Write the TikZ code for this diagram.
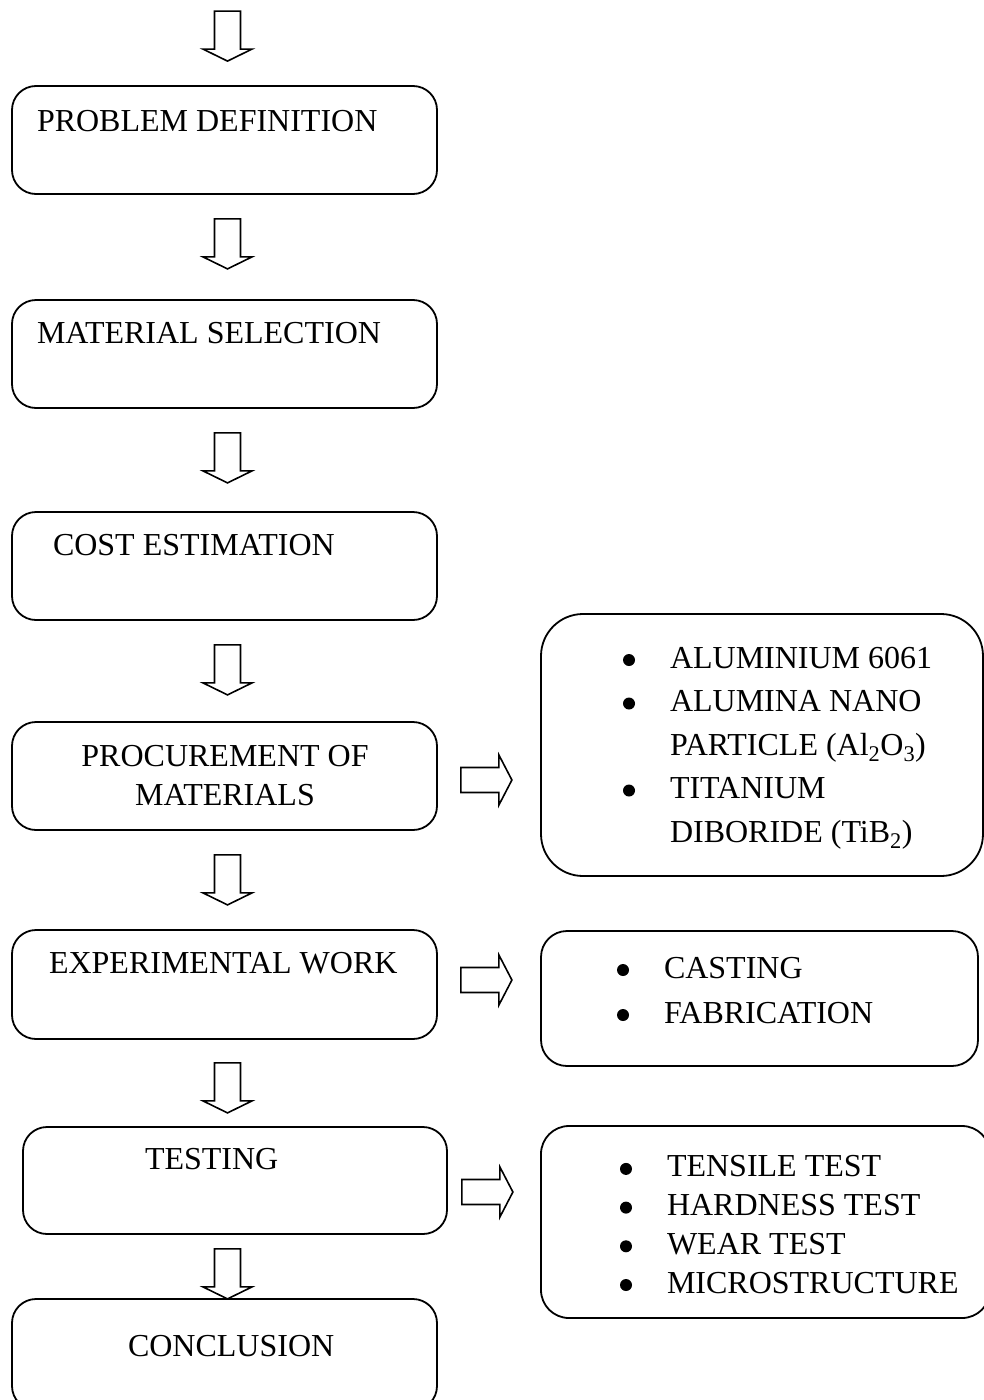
\documentclass[tikz,border=0pt]{standalone}
\usepackage{fontspec}
\setmainfont{Liberation Serif}
\usetikzlibrary{calc}
\tikzset{
  box/.style={draw, line width=1.8pt, rounded corners=24pt, minimum width=425pt, minimum height=108pt, inner sep=0pt},
  rbox/.style={draw, line width=1.8pt, inner sep=0pt},
  lbl/.style={inner sep=0pt, outer sep=0pt, font=\fontsize{32}{39}\selectfont},
  pics/darrow/.style={code={\draw[line width=1.6pt, line join=miter]
      (-13,0) -- (13,0) -- (13,38) -- (24.5,38) -- (0,50) -- (-24.5,38) -- (-13,38) -- cycle;}},
  pics/rarrow/.style={code={\draw[line width=1.6pt, line join=miter]
      (0,-12.5) -- (38,-12.5) -- (38,-25) -- (51,0) -- (38,25) -- (38,12.5) -- (0,12.5) -- cycle;}}
}
\newcommand{\bul}{\makebox[47pt][l]{\tikz[baseline=0pt]\fill (6pt,8pt) circle[radius=6pt];}}
\begin{document}
\begin{tikzpicture}[x=1pt,y=-1pt]
\useasboundingbox (0,0) rectangle (983,1400);
% left column boxes
\node[box] (b1) at (224.5,140) {};
\node[box] (b2) at (224.5,354) {};
\node[box] (b3) at (224.5,566) {};
\node[box] (b4) at (224.5,776) {};
\node[box, minimum height=109pt] (b5) at (224.5,984.5) {};
\node[box, minimum width=424pt, minimum height=107pt] (b6) at (235,1180.5) {};
\node[box, minimum height=111pt] (b7) at (224.5,1354.5) {};
% right boxes
\node[rbox, rounded corners=42pt, minimum width=442pt, minimum height=262pt] (rA) at (762,745) {};
\node[rbox, rounded corners=26pt, minimum width=437pt, minimum height=135pt] (rB) at (759.5,998.5) {};
\node[rbox, rounded corners=28pt, minimum width=449pt, minimum height=192pt] (rC) at (765.5,1222) {};
% texts
\node[lbl, anchor=base west] (t1) at (37,131) {PROBLEM DEFINITION};
\node[lbl, anchor=base west] (t2) at (37,343) {MATERIAL SELECTION};
\node[lbl, anchor=base west] (t3) at (53,555) {COST ESTIMATION};
\node[lbl, anchor=base, align=center] (t4) at (225,805) {PROCUREMENT OF\\MATERIALS};
\node[lbl, anchor=base west] (t5) at (49,973) {EXPERIMENTAL WORK};
\node[lbl, anchor=base west] (t6) at (145,1169) {TESTING};
\node[lbl, anchor=base west] (t7) at (128,1356) {CONCLUSION};
% lists (anchor = baseline of last line)
\node[lbl, anchor=base west, align=left, font=\fontsize{32}{43.5}\selectfont] (lA) at (623,842)
  {\bul ALUMINIUM 6061\\ \bul ALUMINA NANO\\ \hspace*{47pt}PARTICLE (Al\textsubscript{2}O\textsubscript{3})\\ \bul TITANIUM\\ \hspace*{47pt}DIBORIDE (TiB\textsubscript{2})};
\node[lbl, anchor=base west, align=left, font=\fontsize{32}{45}\selectfont] (lB) at (617,1023)
  {\bul CASTING\\ \bul FABRICATION};
\node[lbl, anchor=base west, align=left, font=\fontsize{32}{38.7}\selectfont] (lC) at (620,1293)
  {\bul TENSILE TEST\\ \bul HARDNESS TEST\\ \bul WEAR TEST\\ \bul MICROSTRUCTURE};
% down arrows
\pic at ($(b1.north)+(3,-74)$) {darrow};
\pic at ($(b1.south)+(3,24)$) {darrow};
\pic at ($(b2.south)+(3,24)$) {darrow};
\pic at ($(b3.south)+(3,24)$) {darrow};
\pic at ($(b4.south)+(3,24)$) {darrow};
\pic at ($(b5.south)+(3,23)$) {darrow};
\pic at ($(b6.south)+(-7.5,14)$) {darrow};
% right arrows
\pic at ($(b4.east)+(23,4)$) {rarrow};
\pic at ($(b5.east)+(23,-4.5)$) {rarrow};
\pic at ($(b6.east)+(14,11.5)$) {rarrow};
\end{tikzpicture}
\end{document}
